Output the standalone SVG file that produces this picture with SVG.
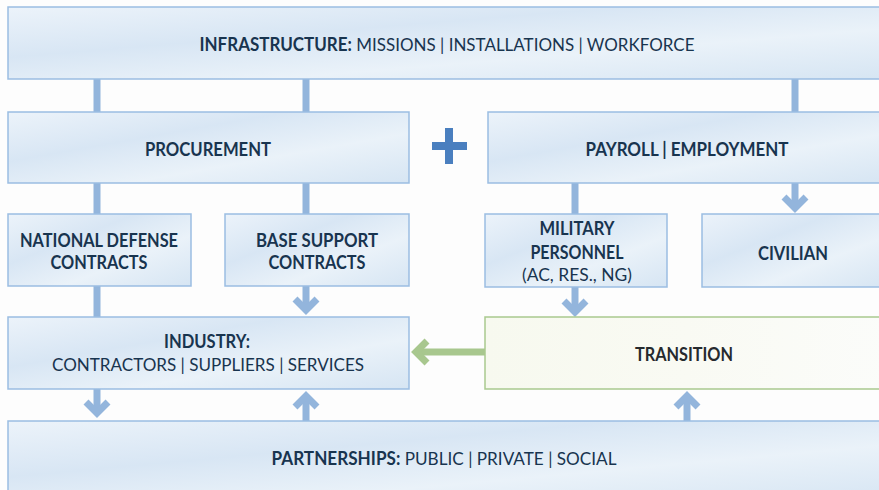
<svg xmlns="http://www.w3.org/2000/svg" width="879" height="490" viewBox="0 0 879 490">
<defs>
<linearGradient id="gBlue" x1="0" y1="0" x2="1" y2="1">
<stop offset="0" stop-color="#ecf3fa"/>
<stop offset="0.35" stop-color="#d8e6f4"/>
<stop offset="0.65" stop-color="#eaf2f9"/>
<stop offset="1" stop-color="#d6e5f3"/>
</linearGradient>
<linearGradient id="gGreen" x1="0" y1="0" x2="1" y2="0">
<stop offset="0" stop-color="#f7f9ef"/>
<stop offset="0.5" stop-color="#f9faf3"/>
<stop offset="1" stop-color="#fbfcfa"/>
</linearGradient>
<style>
.box{fill:url(#gBlue);stroke:#9bbde2;stroke-width:1.5}
.gbox{fill:url(#gGreen);stroke:#a9c98f;stroke-width:1.5}
.ln{fill:none;stroke:#93b5dc;stroke-width:7}
.hd{fill:none;stroke:#93b5dc;stroke-width:7;stroke-linejoin:miter}
.gln{fill:none;stroke:#a8c78e;stroke-width:7}
.ghd{fill:none;stroke:#a8c78e;stroke-width:7;stroke-linejoin:miter}
text{font-family:Lato,"Open Sans","Liberation Sans",sans-serif;font-size:18px;fill:#18344f;text-anchor:middle}
.b{font-weight:bold}
.r{font-weight:normal}
</style>
</defs>
<rect width="879" height="490" fill="#fdfdfd"/>
<g id="connectors">
<path class="ln" d="M97 79V112M306 79V112M795 79V112"/>
<path class="ln" d="M97 183V214M306 183V214M575 183V214M795 183V208"/>
<path class="hd" d="M784 197L795 208L806 197"/>
<path class="ln" d="M97 286V317M306 286V310M575 287V312"/>
<path class="hd" d="M295 299L306 310L317 299M564 301L575 312L586 301"/>
<path class="ln" d="M97 389V413M306 421V396M687 421V396"/>
<path class="hd" d="M86 402L97 413L108 402M295 407L306 396L317 407M676 407L687 396L698 407"/>
<path class="gln" d="M485 352H416"/>
<path class="ghd" d="M427 341L416 352L427 363"/>
</g>
<g id="plus">
<path d="M449 128V164M432 146H467" stroke="#4a7fbf" stroke-width="8" fill="none"/>
</g>
<g id="infrastructure">
<rect class="box" x="8" y="7" width="880" height="72"/>
<text x="447" y="51" textLength="495" lengthAdjust="spacingAndGlyphs"><tspan class="b">INFRASTRUCTURE:</tspan><tspan class="r"> MISSIONS | INSTALLATIONS | WORKFORCE</tspan></text>
</g>
<g id="procurement">
<rect class="box" x="8" y="112" width="401" height="71"/>
<text class="b" x="208" y="156" textLength="126" lengthAdjust="spacingAndGlyphs">PROCUREMENT</text>
</g>
<g id="payroll">
<rect class="box" x="488" y="112" width="400" height="71"/>
<text class="b" x="687" y="156" textLength="203" lengthAdjust="spacingAndGlyphs">PAYROLL | EMPLOYMENT</text>
</g>
<g id="national-defense">
<rect class="box" x="8" y="214" width="183" height="72"/>
<text class="b" x="99" y="247" textLength="158" lengthAdjust="spacingAndGlyphs">NATIONAL DEFENSE</text>
<text class="b" x="99" y="269" textLength="97" lengthAdjust="spacingAndGlyphs">CONTRACTS</text>
</g>
<g id="base-support">
<rect class="box" x="225" y="214" width="184" height="72"/>
<text class="b" x="317" y="247" textLength="122" lengthAdjust="spacingAndGlyphs">BASE SUPPORT</text>
<text class="b" x="317" y="269" textLength="97" lengthAdjust="spacingAndGlyphs">CONTRACTS</text>
</g>
<g id="military">
<rect class="box" x="485" y="214" width="182" height="73"/>
<text class="b" x="577" y="235" textLength="75" lengthAdjust="spacingAndGlyphs">MILITARY</text>
<text class="b" x="577" y="259" textLength="93" lengthAdjust="spacingAndGlyphs">PERSONNEL</text>
<text class="r" x="577" y="281" textLength="110" lengthAdjust="spacingAndGlyphs">(AC, RES., NG)</text>
</g>
<g id="civilian">
<rect class="box" x="702" y="214" width="186" height="73"/>
<text class="b" x="793" y="260" textLength="70" lengthAdjust="spacingAndGlyphs">CIVILIAN</text>
</g>
<g id="industry">
<rect class="box" x="8" y="317" width="401" height="72"/>
<text class="b" x="207" y="348" textLength="86" lengthAdjust="spacingAndGlyphs">INDUSTRY:</text>
<text class="r" x="208" y="371" textLength="312" lengthAdjust="spacingAndGlyphs">CONTRACTORS | SUPPLIERS | SERVICES</text>
</g>
<g id="transition">
<rect class="gbox" x="485" y="317" width="403" height="72"/>
<text class="b" x="684" y="361" textLength="98" lengthAdjust="spacingAndGlyphs" style="fill:#262a2e">TRANSITION</text>
</g>
<g id="partnerships">
<rect class="box" x="8" y="421" width="880" height="80"/>
<text x="444" y="465" textLength="345" lengthAdjust="spacingAndGlyphs"><tspan class="b">PARTNERSHIPS:</tspan><tspan class="r"> PUBLIC | PRIVATE | SOCIAL</tspan></text>
</g>
</svg>
